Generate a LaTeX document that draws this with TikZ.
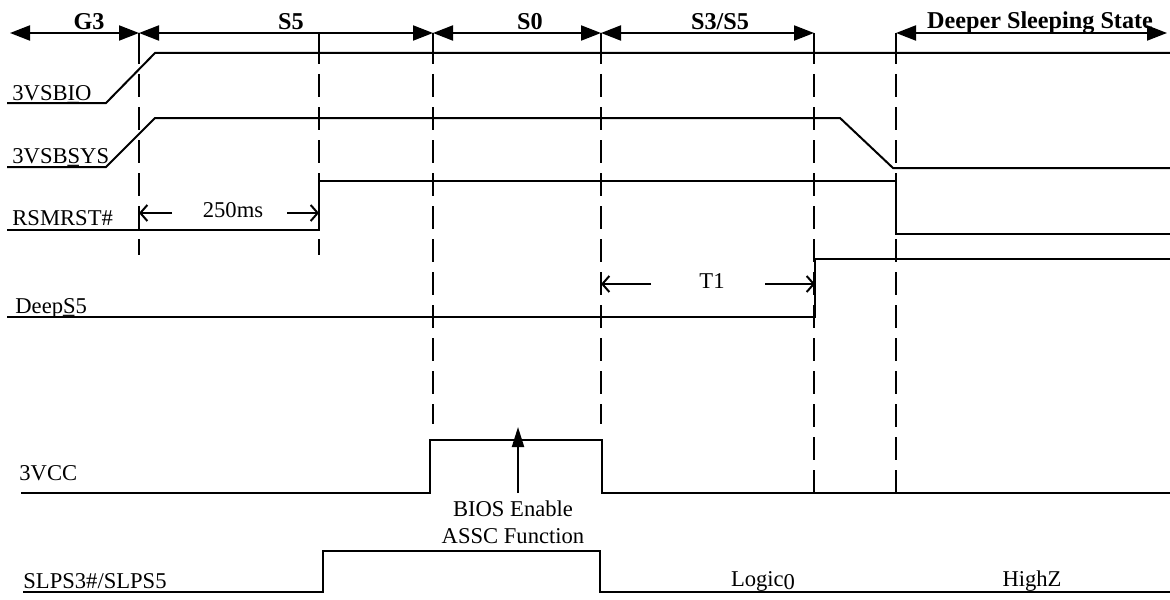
\documentclass[tikz,border=0pt]{standalone}
\usepackage{fontspec}
\setmainfont{Liberation Serif}
\usetikzlibrary{positioning}
\usetikzlibrary{calc}
\usetikzlibrary{arrows.meta}
\tikzset{
    signal/.style = {line width=1pt},
    guide/.style = {line width=1.3pt, dash pattern=on 11.5pt off 5pt, dash phase=6pt},
    statearrow/.style = {line width=1pt, {Triangle[length=10pt,width=7.5pt]}-{Triangle[length=10pt,width=7.5pt]}},
    timearrow/.style = {line width=1pt, -{Straight Barb[length=3.5pt,width=8pt]}},
    uparrow/.style = {line width=1pt, -{Triangle[length=10pt,width=6pt]}},
    statelabel/.style = {font=\fontsize{12.1}{14}\selectfont\bfseries, anchor=base, inner sep=0pt},
    siglabel/.style = {anchor=base west, inner sep=0pt},
    note/.style = {anchor=base, inner sep=0pt}}

\begin{document}
\begin{tikzpicture}[x=0.5pt, y=-0.5pt, font=\fontsize{11.3}{14}\selectfont]
    \useasboundingbox (0,0) rectangle (1170,599);
    % state boundaries
    \path (10,33) coordinate (g3start)
    ++ (129,0) coordinate (b1)
    ++ (294,0) coordinate (b2)
    ++ (168,0) coordinate (b3)
    ++ (213,0) coordinate (b4)
    ++ (82,0) coordinate (b5)
    ++ (271,0) coordinate (dssend);
    \draw[statearrow] (g3start) -- (b1);
    \draw[statearrow] (b1) -- (b2);
    \draw[statearrow] (b2) -- (b3);
    \draw[statearrow] (b3) -- (b4);
    \draw[statearrow] (b5) -- (dssend);
    \node[statelabel] (lg3) at (89,30) {G3};
    \node[statelabel] (ls5) at (291,30) {S5};
    \node[statelabel] (ls0) at (530,30) {S0};
    \node[statelabel] (ls35) at (720,30) {S3/S5};
    \node[statelabel] (ldss) at (1040,29) {Deeper Sleeping State};
    % guide lines
    \foreach \x/\e in {139/255, 319/255, 433/424, 601/424, 814/493, 896/493} {
        \draw[signal] (\x,33) -- (\x,53);
        \draw[guide] (\x,53) -- (\x,\e);
    }
    % signals
    \draw[signal] (7,103) -- (106,103) -- (155,53) -- (1170,53);
    \draw[signal] (7,167) -- (106,167) -- (155,118) -- (840,118) -- (893,168) -- (1170,168);
    \draw[signal] (7,230) -- (319,230) -- (319,181) -- (896,181) -- (896,234) -- (1170,234);
    \draw[signal] (7,317) -- (815,317) -- (815,259) -- (1170,259);
    \draw[signal] (21,493) -- (430,493) -- (430,440) -- (602,440) -- (602,493) -- (1170,493);
    \draw[signal] (23,592) -- (323,592) -- (323,551) -- (600,551) -- (600,592) -- (1170,592);
    \node[siglabel] (n3vsbio) at (12,100) {3VSB\rlap{\_}IO};
    \node[siglabel] (n3vsbsys) at (12,163) {3VSB\rlap{\_}SYS};
    \node[siglabel] (nrsmrst) at (12,225) {RSMRST\#};
    \node[siglabel] (ndeeps5) at (15,313) {Deep\rlap{\_}S5};
    \node[siglabel] (n3vcc) at (19,480) {3VCC};
    \node[siglabel] (nslps) at (23,588) {SLPS3\#/SLPS5};
    % timing
    \node[note] (t250) at (233,217) {250ms};
    \draw[timearrow] (172,213) -- (139,213);
    \draw[timearrow] (287,213) -- (319,213);
    \node[note] (tt1) at (712,288) {T1};
    \draw[timearrow] (651,284) -- (601,284);
    \draw[timearrow] (765,284) -- (815,284);
    \draw[uparrow] (518,493) -- (518,427);
    \node[note] (bios1) at (513,516) {BIOS Enable};
    \node[note] (bios2) at (513,543) {ASSC Function};
    \node[note] (logic0) at (763,586) {Logic\raisebox{-1.5pt}{0}};
    \node[note] (highz) at (1032,586) {HighZ};
\end{tikzpicture}
\end{document}
